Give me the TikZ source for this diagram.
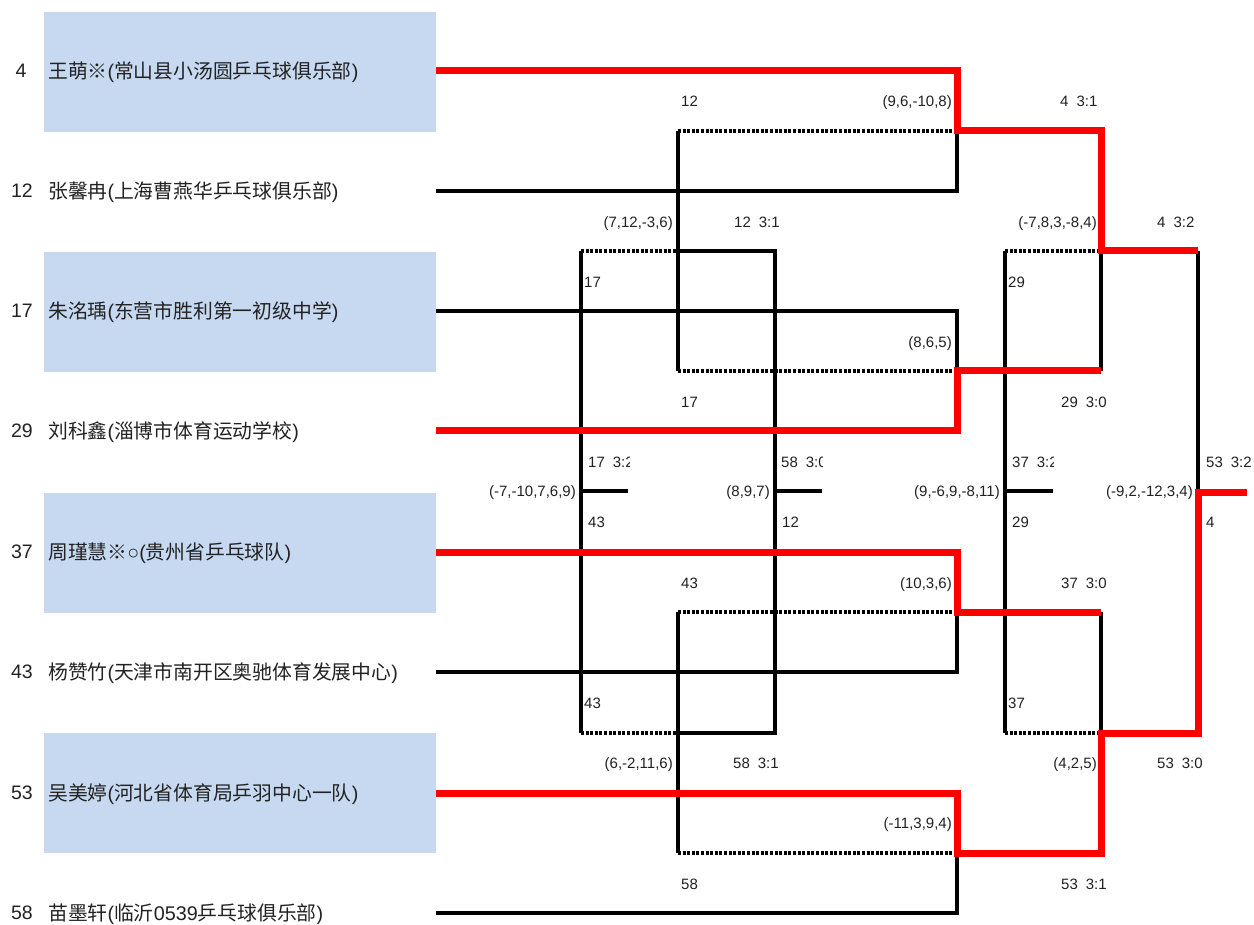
\documentclass[tikz,border=0pt]{standalone}
\usepackage{fontspec}
\setmainfont{Liberation Sans}
\newfontfamily\cjk{Noto Sans CJK SC}
\definecolor{boxblue}{HTML}{C6D9F0}
\definecolor{winred}{HTML}{FF0000}
\definecolor{txt}{HTML}{222222}
\begin{document}
\begin{tikzpicture}[x=1pt,y=-1pt,
  plain/.style={line width=3.2pt,black},
  loser/.style={line width=3.2pt,black,dash pattern=on 3pt off 1.6pt},
  win/.style={line width=7pt,winred,line join=miter},
  seedbox/.style={fill=boxblue,draw=none,minimum width=392pt,minimum height=120pt,inner sep=0,anchor=north west},
  seed/.style={inner sep=0,text height=13.96pt,text depth=0pt,font=\fontsize{19.5}{21}\selectfont,text=txt},
  pname/.style={inner sep=0,text height=15pt,text depth=0pt,anchor=west,font=\fontsize{19.8}{22}\selectfont,text=txt},
  lbl/.style={inner sep=0,text height=10.74pt,text depth=0pt,font=\fontsize{15}{17}\selectfont,text=txt},
  lw/.style={lbl,anchor=west},
  le/.style={lbl,anchor=east}]
\useasboundingbox (0,0) rectangle (1254,925);
\fill[white] (0,0) rectangle (1254,925);
% seed boxes
\node[seedbox] (box1) at (44,12) {};
\node[seedbox] (box3) at (44,252) {};
\node[seedbox] (box5) at (44,493) {};
\node[seedbox] (box7) at (44,733) {};
% seeds and names
\node[seed] (s1) at (21,71) {4};
\node[seed] (s2) at (22,191) {12};
\node[seed] (s3) at (22,311) {17};
\node[seed] (s4) at (22,431) {29};
\node[seed] (s5) at (22,552) {37};
\node[seed] (s6) at (22,672) {43};
\node[seed] (s7) at (22,793) {53};
\node[seed] (s8) at (22,913) {58};
\node[pname] (n1) at (48,71) {{\cjk 王萌※}({\cjk 常山县小汤圆乒乓球俱乐部})};
\node[pname] (n2) at (48,191) {{\cjk 张馨冉}({\cjk 上海曹燕华乒乓球俱乐部})};
\node[pname] (n3) at (48,311) {{\cjk 朱洺瑀}({\cjk 东营市胜利第一初级中学})};
\node[pname] (n4) at (48,431) {{\cjk 刘科鑫}({\cjk 淄博市体育运动学校})};
\node[pname] (n5) at (48,552) {{\cjk 周瑾慧※}○({\cjk 贵州省乒乓球队})};
\node[pname] (n6) at (48,672) {{\cjk 杨赞竹}({\cjk 天津市南开区奥驰体育发展中心})};
\node[pname] (n7) at (48,793) {{\cjk 吴美婷}({\cjk 河北省体育局乒羽中心一队})};
\node[pname] (n8) at (48,913) {{\cjk 苗墨轩}({\cjk 临沂}0539{\cjk 乒乓球俱乐部})};
% line starts
\coordinate (p1) at (436,71);
\coordinate (p2) at (436,191);
\coordinate (p3) at (436,311);
\coordinate (p4) at (436,431);
\coordinate (p5) at (436,552);
\coordinate (p6) at (436,672);
\coordinate (p7) at (436,793);
\coordinate (p8) at (436,913);
% round 1 junctions (x=957)
\coordinate (a1) at (957,71);  \coordinate (a2) at (957,191);
\coordinate (a3) at (957,311); \coordinate (a4) at (957,431);
\coordinate (a5) at (957,552); \coordinate (a6) at (957,672);
\coordinate (a7) at (957,793); \coordinate (a8) at (957,913);
\coordinate (m1) at (957,131); \coordinate (m2) at (957,371);
\coordinate (m3) at (957,612); \coordinate (m4) at (957,853);
% round 2 (x=1101)
\coordinate (b1) at (1101,131); \coordinate (b2) at (1101,371);
\coordinate (b3) at (1101,612); \coordinate (b4) at (1101,853);
\coordinate (bm1) at (1101,251); \coordinate (bm2) at (1101,733);
% final (x=1198)
\coordinate (f1) at (1198,251); \coordinate (f2) at (1198,733);
\coordinate (fm) at (1198,492); \coordinate (fe) at (1247,492);
% losers' first round (x=678)
\coordinate (l1) at (678,131); \coordinate (l2) at (678,371);
\coordinate (l3) at (678,612); \coordinate (l4) at (678,853);
\coordinate (lm1) at (678,251); \coordinate (lm2) at (678,733);
% x=775
\coordinate (r1) at (775,251); \coordinate (r2) at (775,733);
\coordinate (rm) at (775,491); \coordinate (re) at (822,491);
% x=581
\coordinate (q1) at (581,251); \coordinate (q2) at (581,733);
\coordinate (qm) at (581,491); \coordinate (qe) at (628,491);
% x=1005
\coordinate (t1) at (1005,251); \coordinate (t2) at (1005,733);
\coordinate (tm) at (1005,491); \coordinate (te) at (1053,491);
% black lines
\draw[plain] (p2) -- (a2) -- (m1);
\draw[plain] (p3) -- (a3) -- (m2);
\draw[plain] (p6) -- (a6) -- (m3);
\draw[plain] (p8) -- (a8) -- (m4);
\draw[plain] (l1) -- (l2);
\draw[plain] (l3) -- (l4);
\draw[plain] (lm1) -- (r1) -- (r2) -- (lm2);
\draw[plain] (q1) -- (q2);
\draw[plain] (qm) -- (qe);
\draw[plain] (rm) -- (re);
\draw[plain] (bm1) -- (b2);
\draw[plain] (b3) -- (bm2);
\draw[plain] (t1) -- (t2);
\draw[plain] (tm) -- (te);
\draw[plain] (f1) -- (fm);
% losers (dotted)
\draw[loser] (l1) -- (m1);
\draw[loser] (l2) -- (m2);
\draw[loser] (l3) -- (m3);
\draw[loser] (l4) -- (m4);
\draw[loser] (q1) -- (lm1);
\draw[loser] (q2) -- (lm2);
\draw[loser] (t1) -- (bm1);
\draw[loser] (t2) -- (bm2);
% winners (red)
\draw[win] (p1) -- (a1) -- (m1) -- (b1) -- (bm1) -- (f1);
\draw[win] (p4) -- (a4) -- (m2) -- (b2);
\draw[win] (p5) -- (a5) -- (m3) -- (b3);
\draw[win] (p7) -- (a7) -- (m4) -- (b4) -- (bm2) -- (f2) -- (fm) -- (fe);
% labels
\node[le] (c1) at (952,101) {(9,6,-10,8)};
\node[lw] (c2) at (681,101) {12};
\node[lw] (c3) at (1060,101) {4\hspace{8pt}3:1};
\node[le] (c4) at (673,222) {(7,12,-3,6)};
\node[lw] (c5) at (734,222) {12\hspace{8pt}3:1};
\node[le] (c6) at (1097,222) {(-7,8,3,-8,4)};
\node[lw] (c7) at (1157,222) {4\hspace{8pt}3:2};
\node[lw] (c8) at (584,282) {17};
\node[lw] (c9) at (1008,282) {29};
\node[le] (c10) at (952,342) {(8,6,5)};
\node[lw] (c11) at (681,402) {17};
\node[lw] (c12) at (1061,402) {29\hspace{8pt}3:0};
\begin{scope}
\clip (585,440) rectangle (629,485);
\node[lw] (c13) at (588,462) {17\hspace{8pt}3:2};
\end{scope}
\begin{scope}
\clip (778,440) rectangle (822,485);
\node[lw] (c14) at (781,462) {58\hspace{8pt}3:0};
\end{scope}
\begin{scope}
\clip (1009,440) rectangle (1053,485);
\node[lw] (c15) at (1012,462) {37\hspace{8pt}3:2};
\end{scope}
\node[lw] (c16) at (1206,462) {53\hspace{8pt}3:2};
\node[le] (c17) at (576,491) {(-7,-10,7,6,9)};
\node[le] (c18) at (770,491) {(8,9,7)};
\node[le] (c19) at (1000,491) {(9,-6,9,-8,11)};
\node[le] (c20) at (1193,491) {(-9,2,-12,3,4)};
\node[lw] (c21) at (588,522) {43};
\node[lw] (c22) at (782,522) {12};
\node[lw] (c23) at (1012,522) {29};
\node[lw] (c24) at (1206,522) {4};
\node[lw] (c25) at (681,583) {43};
\node[le] (c26) at (952,583) {(10,3,6)};
\node[lw] (c27) at (1061,583) {37\hspace{8pt}3:0};
\node[lw] (c28) at (584,703) {43};
\node[lw] (c29) at (1008,703) {37};
\node[le] (c30) at (673,763) {(6,-2,11,6)};
\node[lw] (c31) at (733,763) {58\hspace{8pt}3:1};
\node[le] (c32) at (1097,763) {(4,2,5)};
\node[lw] (c33) at (1157,763) {53\hspace{8pt}3:0};
\node[le] (c34) at (952,823) {(-11,3,9,4)};
\node[lw] (c35) at (681,884) {58};
\node[lw] (c36) at (1061,884) {53\hspace{8pt}3:1};
\end{tikzpicture}
\end{document}
